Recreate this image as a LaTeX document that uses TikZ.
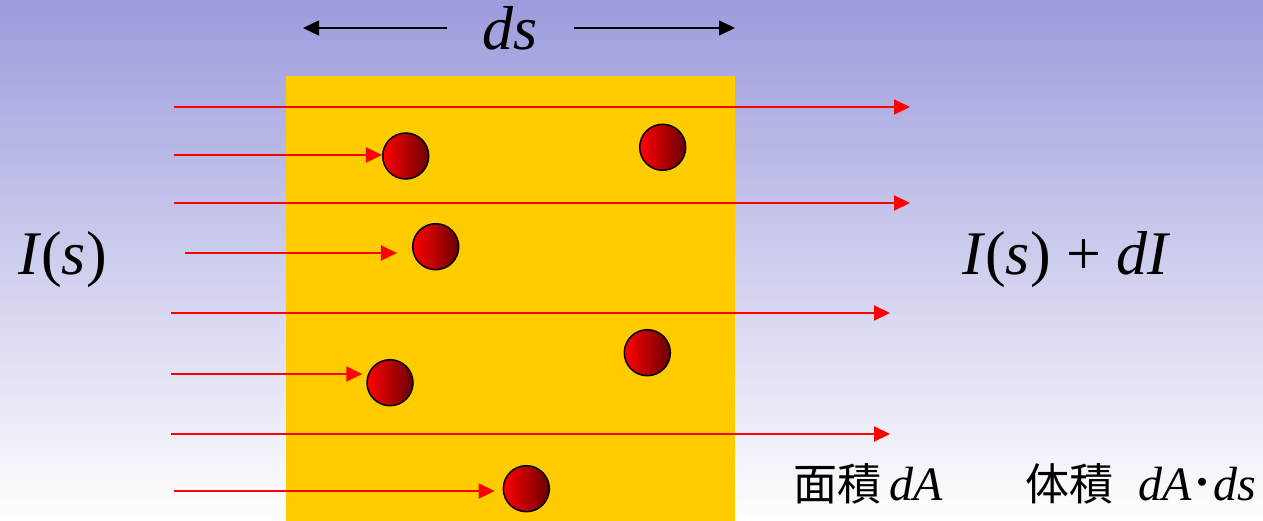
\documentclass[tikz,border=0pt]{standalone}
\usepackage{fontspec}
\setmainfont{Liberation Serif}
\newfontfamily\jpfont{Noto Sans CJK JP}
\usetikzlibrary{arrows.meta}
\definecolor{hgoben}{RGB}{156,156,221}
\definecolor{schicht}{RGB}{255,204,0}

\begin{document}
\begin{tikzpicture}[x=1pt, y=-1pt,
			>={Triangle[length=16pt,width=15pt]},   %Pfeilspitzen
			strahl/.style={->, red, line width=2pt},
			mass/.style={->, black, line width=1.5pt},
			teilchen/.style={circle, draw=black, line width=1.5pt, minimum size=46pt, inner sep=0pt, left color=red, right color=red!42!black},
			gross/.style={font=\fontsize{62}{70}\selectfont, inner sep=0pt},
			klein/.style={font=\fontsize{48}{54}\selectfont, inner sep=0pt, anchor=base west}]
			%Hintergrund
			\useasboundingbox (0,0) rectangle (1263,521);
			\fill[top color=hgoben, middle color=hgoben!22!white, bottom color=white] (0,0) rectangle (1263,521);
			%Schicht
			\fill[schicht] (286,76) rectangle (735,521);
			% Breite ds
			\node[gross, inner xsep=36pt] (ds) at (510.5,28) {\itshape ds};
			\coordinate (dsl) at (303,28);
			\coordinate (dsr) at (735,28);
			\draw[mass] (ds.west) -- (dsl);
			\draw[mass] (ds.east) -- (dsr);
			% Teilchen
			\foreach \n/\x/\y in {1/405.7/156, 2/662.7/147.3, 3/435.7/246.7, 4/647.3/352.7, 5/390/382.7, 6/526.3/488.7}
				\node[teilchen] (b\n) at (\x,\y) {};
			% Strahlen durch die Schicht
			\foreach \n/\xa/\y/\xe in {1/174/107/910, 3/174/203/910, 5/171/313/890, 7/171/434/890} {
				\coordinate (a\n) at (\xa,\y);
				\coordinate (e\n) at (\xe,\y);
				\draw[strahl] (a\n) -- (e\n);
			}
			% Strahlen auf Teilchen
			\foreach \n/\xa/\y/\b/\k in {2/174/155/1/0pt, 4/185/253/3/15pt, 6/171/374/5/4pt, 8/174/491/6/8pt} {
				\coordinate (a\n) at (\xa,\y);
				\draw[strahl, shorten >=\k] (a\n) -- (a\n -| b\b.west);
			}
			%Beschriftung
			\node[gross, anchor=base west] (ein) at (18,275) {\textit{I}(\textit{s})};
			\node[gross, anchor=base west] (aus) at (962,275) {\textit{I}(\textit{s}) + \textit{dI}};
			\node[klein] (flaeche) at (793,500) {{\jpfont\fontsize{44}{50}\selectfont 面積}\hspace{8pt}\textit{dA}};
			\node[klein] (volumen) at (1025,500) {{\jpfont\fontsize{44}{50}\selectfont 体積}\hspace{25pt}\textit{dA}\hspace{-1pt}{\jpfont ･}\hspace{-1pt}\textit{ds}};
\end{tikzpicture}
\end{document}
